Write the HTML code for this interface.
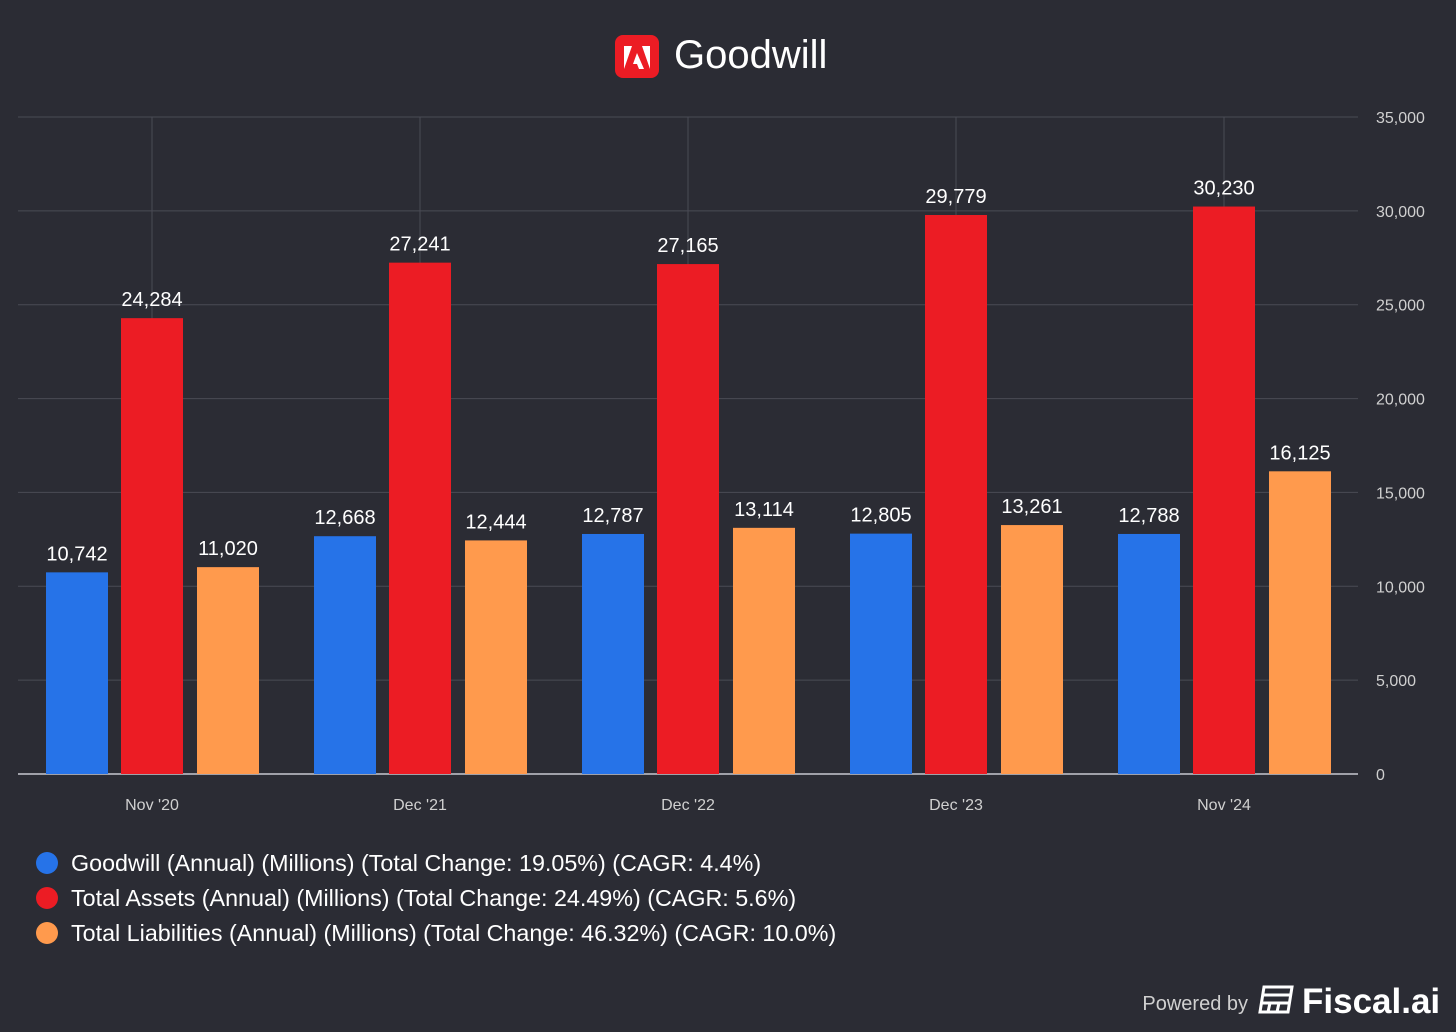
<!DOCTYPE html>
<html><head><meta charset="utf-8"><style>
html,body{margin:0;background:#2b2c34;font-family:"Liberation Sans",sans-serif;overflow:hidden;}
svg{display:block;}
svg text{font-family:"Liberation Sans",sans-serif;}
</style></head><body>
<svg width="1456" height="1032" xmlns="http://www.w3.org/2000/svg">
<rect width="1456" height="1032" fill="#2b2c34"/>
<g>
<rect x="615" y="35" width="44" height="43" rx="8" fill="#ec1c24"/>
<path d="M624 46 L632 46 L624 69 Z M642 46 L650 46 L650 69 Z M637 53 L644 69 L639 69 L637 64 L633 64 Z" fill="#fff"/>
<text x="674" y="68" font-size="40" fill="#fff">Goodwill</text>
</g>
<g id="grid"></g>
<g id="bars"></g>
<g id="legend">
<circle cx="47" cy="863" r="11" fill="#2673e8"/><text x="71" y="871" font-size="23.3" fill="#fff">Goodwill (Annual) (Millions) (Total Change: 19.05%) (CAGR: 4.4%)</text>
<circle cx="47" cy="898" r="11" fill="#ec1c24"/><text x="71" y="906" font-size="23.3" fill="#fff">Total Assets (Annual) (Millions) (Total Change: 24.49%) (CAGR: 5.6%)</text>
<circle cx="47" cy="933" r="11" fill="#ff9a4d"/><text x="71" y="941" font-size="23.3" fill="#fff">Total Liabilities (Annual) (Millions) (Total Change: 46.32%) (CAGR: 10.0%)</text>
</g>
<g>
<text x="1248" y="1010" font-size="20" fill="#d0d0d0" text-anchor="end">Powered by</text>
<g fill="none" stroke="#fff" stroke-width="3"><path d="M1264 987 L1292 987 L1288 1012 L1260 1012 Z"/><path d="M1263 995 L1290 995 M1262 1003 L1289 1003 M1270 1003 L1268 1012 M1279 1003 L1277 1012"/></g>
<text x="1302" y="1013" font-size="35" font-weight="bold" fill="#fff">Fiscal.ai</text>
</g>
</svg>
<script>
const categories=["Nov '20","Dec '21","Dec '22","Dec '23","Nov '24"];
const goodwill=[10742,12668,12787,12805,12788];
const assets=[24284,27241,27165,29779,30230];
const liabilities=[11020,12444,13114,13261,16125];
const yTicks=[0,5000,10000,15000,20000,25000,30000,35000];
const NS="http://www.w3.org/2000/svg";
const y=v=>774-v*657/35000;
const xc=i=>152+i*268;
function mk(tag,attrs,parent,txt){const e=document.createElementNS(NS,tag);for(const k in attrs)e.setAttribute(k,attrs[k]);if(txt!==undefined)e.textContent=txt;parent.appendChild(e);return e;}
const grid=document.getElementById('grid'),bars=document.getElementById('bars');
yTicks.forEach(t=>{
 const l=mk('line',{x1:18,x2:1358,y1:y(t),y2:y(t),stroke:t===0?'#c8c8d0':'#4a4b55','stroke-width':t===0?1.5:1},grid);
 
 
 const tx=mk('text',{x:1376,y:y(t)+6,'font-size':16,fill:'#d0d0d0'},grid,t.toLocaleString('en-US'));
 
 
});
categories.forEach((c,i)=>{
 const l=mk('line',{x1:xc(i),x2:xc(i),y1:117,y2:774,stroke:'#4a4b55','stroke-width':1},grid);
 
 
 const tx=mk('text',{x:xc(i),y:810,'font-size':16,fill:'#d0d0d0','text-anchor':'middle'},grid,c);
 
 
});
const series=[[goodwill,'#2673e8',-75,'goodwill'],[assets,'#ec1c24',0,'assets'],[liabilities,'#ff9a4d',76,'liabilities']];
series.forEach(([vals,col,off,nm])=>{
 vals.forEach((v,i)=>{
  const cx=xc(i)+off;
  const r=mk('rect',{x:cx-31,y:y(v),width:62,height:774-y(v),fill:col},bars);
  
  
  const t=mk('text',{x:cx,y:y(v)-12,'font-size':20,fill:'#fff','text-anchor':'middle'},bars,v.toLocaleString('en-US'));
  
  
 });
});
</script>
</body></html>
